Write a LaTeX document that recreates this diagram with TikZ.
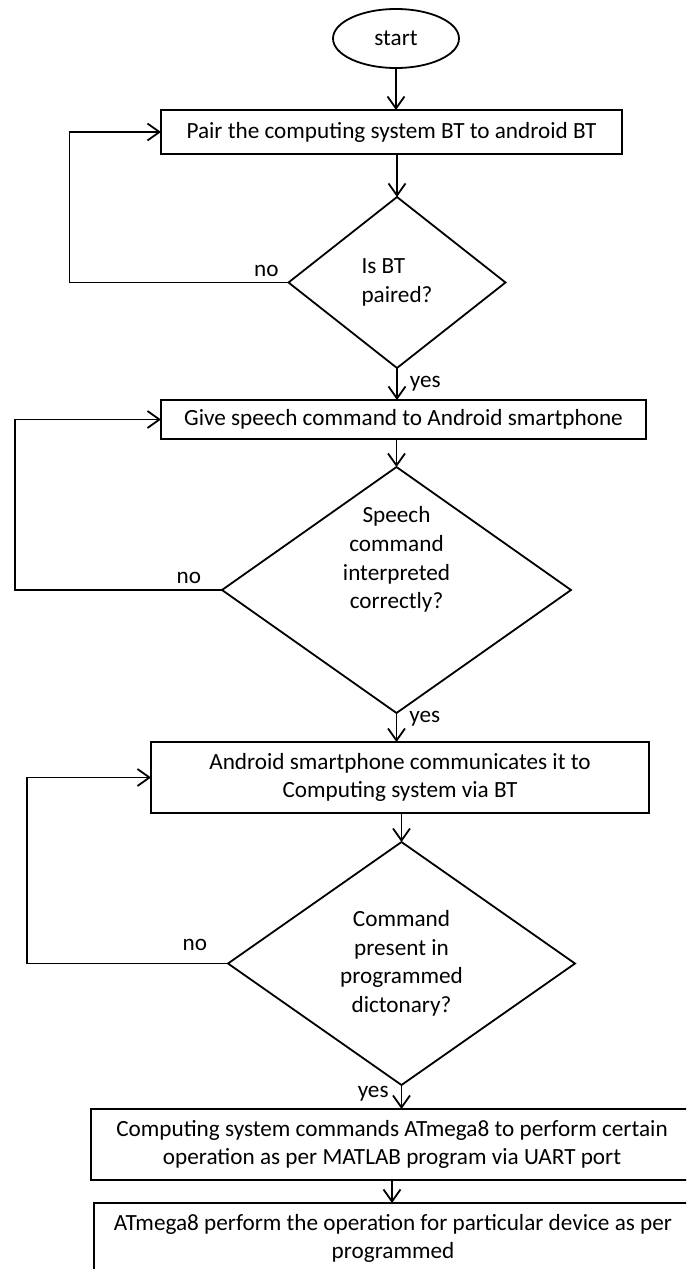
\documentclass[tikz,border=0pt]{standalone}
\usepackage{fontspec}
\setmainfont{Carlito}
\usetikzlibrary{arrows.meta,positioning,shapes.geometric}
\tikzset{
  term/.style={draw,ellipse,minimum width=63pt,minimum height=29.5pt,inner sep=0pt,outer sep=0pt},
  proc/.style={draw,rectangle,align=center,inner sep=0pt,outer sep=0pt},
  dec/.style={draw,diamond,align=center,inner sep=0pt,outer sep=0pt},
  ar/.style={-{Straight Barb[length=6pt,width=8.5pt]}},
  lbl/.style={inner sep=0pt},
}
\begin{document}
\begin{tikzpicture}[line width=0.9pt,font=\fontsize{11.6pt}{14.3pt}\selectfont]
\useasboundingbox (0,0) rectangle (343pt,-634.5pt);
\clip (0,0) rectangle (343pt,-634.5pt);
% main column
\node[term] (start) at (198pt,-19.25pt) {start};
\node[proc,minimum width=230.5pt,minimum height=22pt,below=21pt of start,xshift=-2.25pt] (pair) {Pair the computing system BT to android BT};
\node[dec,align=left,aspect=1.27,minimum width=108.5pt,minimum height=85.5pt,below=21.5pt of pair,xshift=2.75pt] (paired) {Is BT\\paired?};
\node[proc,minimum width=242.5pt,minimum height=19.5pt,below=16pt of paired,xshift=3.25pt] (speech) {Give speech command to Android smartphone};
\node[dec,aspect=1.42,minimum width=174.5pt,minimum height=123pt,below=14pt of speech,xshift=-3.5pt] (interp) {Speech\\command\\interpreted\\correctly?\\[18pt]\mbox{}};
\node[proc,minimum width=249pt,minimum height=35.5pt,below=14.5pt of interp,xshift=1.75pt] (comm) {Android smartphone communicates it to\\Computing system via BT};
\node[dec,aspect=1.43,minimum width=173.5pt,minimum height=121.5pt,below=14.5pt of comm,xshift=0.75pt] (dict) {Command\\present in\\programmed\\dictonary?};
\node[proc,minimum width=301pt,minimum height=35.5pt,below=12pt of dict,xshift=-4.75pt] (atcmd) {Computing system commands ATmega8 to perform certain\\operation as per MATLAB program via UART port};
\node[proc,minimum width=299pt,minimum height=35.5pt,below=11.5pt of atcmd,xshift=0.5pt] (perf) {ATmega8 perform the operation for particular device as per\\programmed};
% forward arrows
\draw[ar] (start.south) -- (start.south |- pair.north);
\draw[ar] (paired.north |- pair.south) -- (paired.north);
\draw[ar] (paired.south) -- node[lbl,right=6pt]{yes} (paired.south |- speech.north);
\draw[ar] (interp.north |- speech.south) -- (interp.north);
\draw[ar] (interp.south) -- node[lbl,pos=0.2,right=6pt]{yes} (interp.south |- comm.north);
\draw[ar] (dict.north |- comm.south) -- (dict.north);
\draw[ar] (dict.south) -- node[lbl,pos=0.35,left=6pt]{yes} (dict.south |- atcmd.north);
\draw[ar] (atcmd.south) -- (atcmd.south |- perf.north);
% loops back
\draw[ar] (paired.west) node[lbl,above left=2.5pt and 4.5pt]{no} -- ++(-109.5pt,0) |- (pair.west);
\draw[ar] (interp.west) node[lbl,above left=2.5pt and 10pt]{no} -- ++(-103.5pt,0) |- (speech.west);
\draw[ar] (dict.west) node[lbl,above left=6pt and 10pt]{no} -- ++(-100.5pt,0) |- (comm.west);
\end{tikzpicture}
\end{document}
